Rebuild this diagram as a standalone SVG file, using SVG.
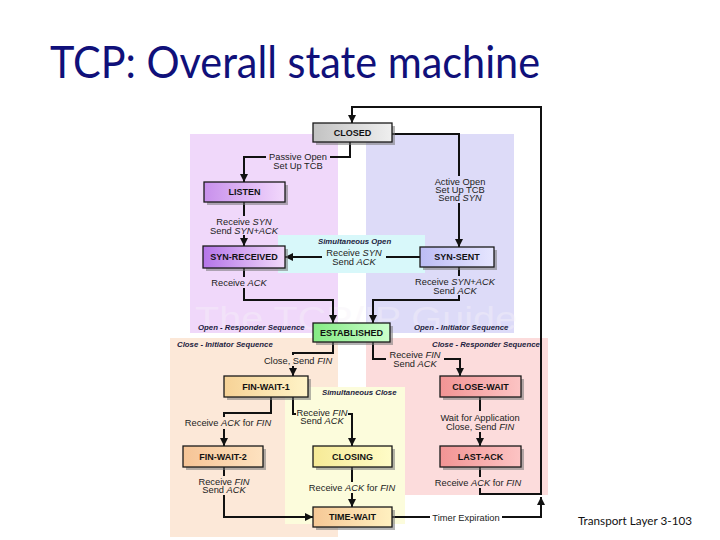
<svg xmlns="http://www.w3.org/2000/svg" width="720" height="540" viewBox="0 0 720 540">
<defs>
<linearGradient id="gClosed" x1="0" y1="0" x2="1" y2="0"><stop offset="0" stop-color="#c2c2c2"/><stop offset="1" stop-color="#efefef"/></linearGradient>
<linearGradient id="gListen" x1="0" y1="0" x2="1" y2="0"><stop offset="0" stop-color="#c890ec"/><stop offset="1" stop-color="#f2d8fc"/></linearGradient>
<linearGradient id="gSynR" x1="0" y1="0" x2="1" y2="0"><stop offset="0" stop-color="#b474e8"/><stop offset="1" stop-color="#f2dafa"/></linearGradient>
<linearGradient id="gSynS" x1="0" y1="0" x2="1" y2="0"><stop offset="0" stop-color="#bcbcf4"/><stop offset="1" stop-color="#e6e6ff"/></linearGradient>
<linearGradient id="gEst" x1="0" y1="0" x2="1" y2="0"><stop offset="0" stop-color="#84ea84"/><stop offset="1" stop-color="#ccffcc"/></linearGradient>
<linearGradient id="gFw1" x1="0" y1="0" x2="1" y2="0"><stop offset="0" stop-color="#f6d296"/><stop offset="1" stop-color="#fff4c8"/></linearGradient>
<linearGradient id="gFw2" x1="0" y1="0" x2="1" y2="0"><stop offset="0" stop-color="#f6c496"/><stop offset="1" stop-color="#fde2c0"/></linearGradient>
<linearGradient id="gClosing" x1="0" y1="0" x2="1" y2="0"><stop offset="0" stop-color="#f6ea96"/><stop offset="1" stop-color="#fffcc8"/></linearGradient>
<linearGradient id="gTw" x1="0" y1="0" x2="1" y2="0"><stop offset="0" stop-color="#f6c896"/><stop offset="1" stop-color="#fff0c0"/></linearGradient>
<linearGradient id="gPink" x1="0" y1="0" x2="1" y2="0"><stop offset="0" stop-color="#f29494"/><stop offset="1" stop-color="#fcc4c4"/></linearGradient>
<marker id="ah" viewBox="0 0 10 10" refX="10" refY="5" markerWidth="8" markerHeight="8" markerUnits="userSpaceOnUse" orient="auto"><path d="M0,0 L10,5 L0,10 z" fill="#111"/></marker>
</defs>
<style>
.title{font-family:"Lato","Open Sans",sans-serif;font-size:44px;fill:#10107a}
.foot{font-family:"Lato","Open Sans",sans-serif;font-size:11px;fill:#111}
.reg{font-family:"Liberation Sans",Arial,sans-serif;font-size:7.8px;font-weight:bold;font-style:italic;fill:#1c1c40}
.lbl{font-family:"Liberation Sans",Arial,sans-serif;font-size:9.3px;fill:#222;text-anchor:middle}
.i{font-style:italic}
.nt{font-family:"Liberation Sans",Arial,sans-serif;font-size:9px;font-weight:bold;fill:#111;text-anchor:middle}
.box{stroke:#1a1a1a;stroke-width:1.3}
.sh{fill:#777;opacity:0.55}
.edge{fill:none;stroke:#111;stroke-width:2}
.wm{font-family:"Liberation Sans",Arial,sans-serif;font-size:33px;fill:#f6f2f8;opacity:0.4}
</style>
<rect width="720" height="540" fill="#ffffff"/>
<text class="title" x="50" y="78" textLength="490" lengthAdjust="spacingAndGlyphs">TCP: Overall state machine</text>
<text class="foot" x="578" y="525" textLength="114" lengthAdjust="spacingAndGlyphs">Transport Layer 3-103</text>

<g id="regions">
<rect x="190" y="134" width="148" height="199" fill="#f0d8fa"/>
<rect x="366" y="134" width="148" height="199" fill="#dddbf8"/>
<rect x="278" y="235" width="147" height="38" fill="#d8f8fa"/>
<rect x="170" y="338" width="168" height="199" fill="#fce8d8"/>
<rect x="366" y="338" width="182" height="157" fill="#fcdcdc"/>
<rect x="285" y="387" width="120" height="137" fill="#fcfcdc"/>
<text class="wm" x="195" y="330" textLength="322" lengthAdjust="spacingAndGlyphs">The TCP/IP Guide</text>
<text class="reg" x="198" y="330">Open - Responder Sequence</text>
<text class="reg" x="414" y="330">Open - Initiator Sequence</text>
<text class="reg" x="318" y="244">Simultaneous Open</text>
<text class="reg" x="177" y="347">Close - Initiator Sequence</text>
<text class="reg" x="432" y="347">Close - Responder Sequence</text>
<text class="reg" x="322" y="395">Simultaneous Close</text>
</g>

<g id="connectors">
<path class="edge" d="M480,467 V494 H541 V107 H352 V123" marker-end="url(#ah)"/>
<path class="edge" d="M392,517 H541 V497" marker-end="url(#ah)"/>
<path class="edge" d="M350,142 V157 H244 V182" marker-end="url(#ah)"/>
<path class="edge" d="M392,134 H459 V247" marker-end="url(#ah)"/>
<path class="edge" d="M244,202 V246" marker-end="url(#ah)"/>
<path class="edge" d="M420,257 H285" marker-end="url(#ah)"/>
<path class="edge" d="M244,268 V300 H333 V323" marker-end="url(#ah)"/>
<path class="edge" d="M459,267 V300 H373 V323" marker-end="url(#ah)"/>
<path class="edge" d="M333,342 V353 H293 V376" marker-end="url(#ah)"/>
<path class="edge" d="M373,342 V359 H460 V376" marker-end="url(#ah)"/>
<path class="edge" d="M271,397 V413 H224 V446" marker-end="url(#ah)"/>
<path class="edge" d="M293,397 V414 H352 V446" marker-end="url(#ah)"/>
<path class="edge" d="M480,397 V446" marker-end="url(#ah)"/>
<path class="edge" d="M224,467 V517 H313" marker-end="url(#ah)"/>
<path class="edge" d="M352,467 V507" marker-end="url(#ah)"/>

<rect x="266" y="151" width="64" height="19" fill="#f0d8fa"/>
<text class="lbl" x="298" y="160">Passive Open</text>
<text class="lbl" x="298" y="168.5">Set Up TCB</text>

<rect x="432" y="176" width="56" height="27" fill="#dddbf8"/>
<text class="lbl" x="460" y="185">Active Open</text>
<text class="lbl" x="460" y="193">Set Up TCB</text>
<text class="lbl" x="460" y="201">Send <tspan class="i">SYN</tspan></text>

<rect x="212" y="216" width="64" height="19" fill="#f0d8fa"/>
<text class="lbl" x="244" y="225">Receive <tspan class="i">SYN</tspan></text>
<text class="lbl" x="244" y="233.5">Send <tspan class="i">SYN+ACK</tspan></text>

<rect x="322" y="247" width="64" height="19" fill="#d8f8fa"/>
<text class="lbl" x="354" y="256">Receive <tspan class="i">SYN</tspan></text>
<text class="lbl" x="354" y="264.5">Send <tspan class="i">ACK</tspan></text>

<rect x="208" y="277" width="62" height="11" fill="#f0d8fa"/>
<text class="lbl" x="239" y="285.5">Receive <tspan class="i">ACK</tspan></text>

<rect x="424" y="276" width="62" height="19" fill="#dddbf8"/>
<text class="lbl" x="455" y="285">Receive <tspan class="i">SYN+ACK</tspan></text>
<text class="lbl" x="455" y="293.5">Send <tspan class="i">ACK</tspan></text>

<rect x="261" y="355" width="74" height="11" fill="#fce8d8"/>
<text class="lbl" x="298" y="363.5">Close, Send <tspan class="i">FIN</tspan></text>

<rect x="386" y="349" width="58" height="19" fill="#fcdcdc"/>
<text class="lbl" x="415" y="358">Receive <tspan class="i">FIN</tspan></text>
<text class="lbl" x="415" y="366.5">Send <tspan class="i">ACK</tspan></text>

<rect x="181" y="417" width="94" height="12" fill="#fce8d8"/>
<text class="lbl" x="228" y="426">Receive <tspan class="i">ACK</tspan> for <tspan class="i">FIN</tspan></text>

<rect x="296" y="406" width="52" height="20" fill="#fcfcdc"/>
<text class="lbl" x="322" y="415.5">Receive <tspan class="i">FIN</tspan></text>
<text class="lbl" x="322" y="424">Send <tspan class="i">ACK</tspan></text>

<rect x="436" y="411" width="88" height="21" fill="#fcdcdc"/>
<text class="lbl" x="480" y="421">Wait for Application</text>
<text class="lbl" x="480" y="429.5">Close, Send <tspan class="i">FIN</tspan></text>

<rect x="196" y="476" width="56" height="19" fill="#fce8d8"/>
<text class="lbl" x="224" y="484.5">Receive <tspan class="i">FIN</tspan></text>
<text class="lbl" x="224" y="493">Send <tspan class="i">ACK</tspan></text>

<rect x="306" y="482" width="92" height="11" fill="#fcfcdc"/>
<text class="lbl" x="352" y="490.5">Receive <tspan class="i">ACK</tspan> for <tspan class="i">FIN</tspan></text>

<rect x="432" y="477" width="92" height="11" fill="#fcdcdc"/>
<text class="lbl" x="478" y="485.5">Receive <tspan class="i">ACK</tspan> for <tspan class="i">FIN</tspan></text>

<rect x="430" y="512" width="72" height="11" fill="#ffffff"/>
<text class="lbl" x="466" y="520.5">Timer Expiration</text>
</g>

<g id="closed"><rect class="sh" x="316" y="126" width="79" height="19"/><rect class="box" x="313" y="123" width="79" height="19" fill="url(#gClosed)"/><text class="nt" x="352.5" y="135.7">CLOSED</text></g>
<g id="listen"><rect class="sh" x="207" y="185" width="81" height="20"/><rect class="box" x="204" y="182" width="81" height="20" fill="url(#gListen)"/><text class="nt" x="244.5" y="195.2">LISTEN</text></g>
<g id="syn-received"><rect class="sh" x="206" y="249" width="82" height="22"/><rect class="box" x="203" y="246" width="82" height="22" fill="url(#gSynR)"/><text class="nt" x="244" y="260.2">SYN-RECEIVED</text></g>
<g id="syn-sent"><rect class="sh" x="423" y="250" width="74" height="20"/><rect class="box" x="420" y="247" width="74" height="20" fill="url(#gSynS)"/><text class="nt" x="457" y="260.2">SYN-SENT</text></g>
<g id="established"><rect class="sh" x="316" y="326" width="77" height="19"/><rect class="box" x="313" y="323" width="77" height="19" fill="url(#gEst)"/><text class="nt" x="351.5" y="335.7">ESTABLISHED</text></g>
<g id="fin-wait-1"><rect class="sh" x="227" y="379" width="84" height="21"/><rect class="box" x="224" y="376" width="84" height="21" fill="url(#gFw1)"/><text class="nt" x="266" y="389.7">FIN-WAIT-1</text></g>
<g id="close-wait"><rect class="sh" x="443" y="379" width="81" height="21"/><rect class="box" x="440" y="376" width="81" height="21" fill="url(#gPink)"/><text class="nt" x="480.5" y="389.7">CLOSE-WAIT</text></g>
<g id="fin-wait-2"><rect class="sh" x="186" y="449" width="80" height="21"/><rect class="box" x="183" y="446" width="80" height="21" fill="url(#gFw2)"/><text class="nt" x="223" y="459.7">FIN-WAIT-2</text></g>
<g id="closing"><rect class="sh" x="316" y="449" width="79" height="21"/><rect class="box" x="313" y="446" width="79" height="21" fill="url(#gClosing)"/><text class="nt" x="352.5" y="459.7">CLOSING</text></g>
<g id="last-ack"><rect class="sh" x="443" y="449" width="81" height="21"/><rect class="box" x="440" y="446" width="81" height="21" fill="url(#gPink)"/><text class="nt" x="480.5" y="459.7">LAST-ACK</text></g>
<g id="time-wait"><rect class="sh" x="316" y="510" width="79" height="20"/><rect class="box" x="313" y="507" width="79" height="20" fill="url(#gTw)"/><text class="nt" x="352.5" y="520.2">TIME-WAIT</text></g>
</svg>
